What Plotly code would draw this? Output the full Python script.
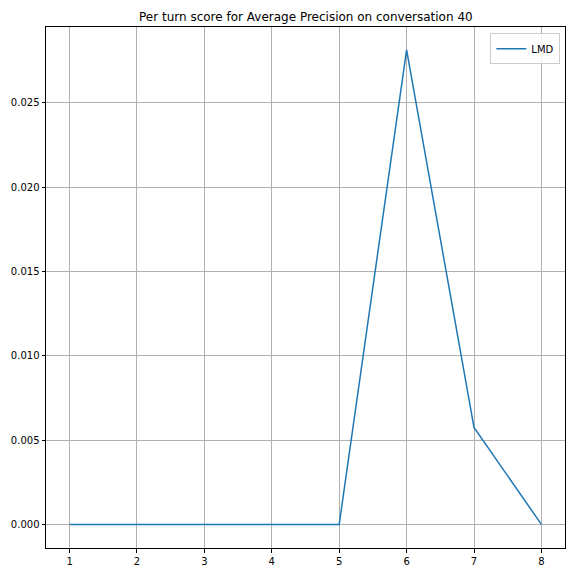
import plotly.graph_objects as go

turns = [1, 2, 3, 4, 5, 6, 7, 8]
lmd_scores = [0.0, 0.0, 0.0, 0.0, 0.0, 0.02814, 0.00575, 0.0]
y_ticks = [0.0, 0.005, 0.010, 0.015, 0.020, 0.025]
y_tick_labels = ["0.000", "0.005", "0.010", "0.015", "0.020", "0.025"]

fig = go.Figure()
fig.add_trace(go.Scatter(x=turns, y=lmd_scores, mode="lines", name="LMD",
                         line=dict(color="#1f77b4", width=1.5)))

axis_common = dict(
    showline=True, linecolor="black", linewidth=1, mirror=True,
    ticks="outside", ticklen=3.5, tickwidth=0.8, tickcolor="black",
    showgrid=True, gridcolor="#b0b0b0", gridwidth=0.8,
    zeroline=False, automargin=False,
    tickfont=dict(family="DejaVu Sans", size=10, color="black"),
)

fig.update_layout(
    width=576, height=576,
    margin=dict(l=46, r=11, t=27, b=28, autoexpand=False),
    paper_bgcolor="white", plot_bgcolor="white",
    title=dict(text="Per turn score for Average Precision on conversation 40",
               x=0.531, xanchor="center", y=1 - 17/576, yanchor="middle",
               font=dict(family="DejaVu Sans", size=12, color="black")),
    xaxis=dict(range=[0.65, 8.35], tickvals=turns, **axis_common),
    yaxis=dict(range=[-0.0014, 0.0295], tickvals=y_ticks, ticktext=y_tick_labels, **axis_common),
    showlegend=True,
    legend=dict(x=0.991, y=0.988, xanchor="right", yanchor="top",
                bgcolor="rgba(255,255,255,0.8)", bordercolor="#cccccc", borderwidth=1,
                font=dict(family="DejaVu Sans", size=10, color="black"),
                itemwidth=30, tracegroupgap=0),
)

fig.write_html("out.html", config={"displayModeBar": False},
               post_script="document.body.style.margin='0';document.body.style.padding='0';")
